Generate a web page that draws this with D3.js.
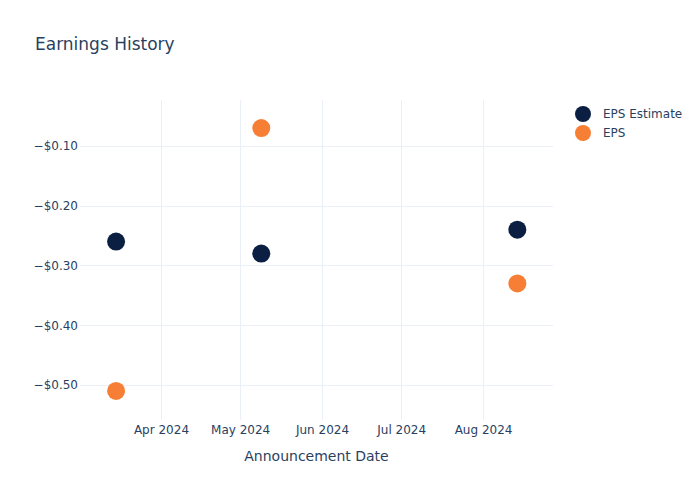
<!DOCTYPE html>
<html>
<head>
<meta charset="utf-8">
<script src="https://cdn.jsdelivr.net/npm/d3@7"></script>
<style>
  body { margin: 0; background: #fff; }
  text { font-family: "DejaVu Sans", sans-serif; fill: #2a3f5f; }
</style>
</head>
<body>
<script>
var dates = ["2024-03-15", "2024-05-09", "2024-08-14"]; // announcement dates
var epsEstimate = [-0.26, -0.28, -0.24]; // EPS Estimate
var epsActual = [-0.51, -0.07, -0.33];   // EPS
var seriesNames = ["EPS Estimate", "EPS"];
var seriesColors = ["#0b1f42", "#f77f35"];
var yTicks = [-0.5, -0.4, -0.3, -0.2, -0.1];

var parseDate = d3.timeParse("%Y-%m-%d");
var width = 700, height = 500;
var margin = {top: 100, right: 147, bottom: 80, left: 80};
var plotW = width - margin.left - margin.right;
var plotH = height - margin.top - margin.bottom;
var font = "'DejaVu Sans', sans-serif";

var svg = d3.select("body").append("svg").attr("width", width).attr("height", height);

var x = d3.scaleTime()
    .domain([new Date(2024, 2, 1, 8), new Date(2024, 7, 27, 12)])
    .range([0, plotW]);

var y = d3.scaleLinear()
    .domain([-0.5586, -0.023])
    .range([plotH, 0]);

var g = svg.append("g").attr("transform", "translate(" + margin.left + "," + margin.top + ")");

// grid lines (snapped to pixels so they stay crisp)
var xTicks = [new Date(2024, 3, 1), new Date(2024, 4, 1), new Date(2024, 5, 1), new Date(2024, 6, 1), new Date(2024, 7, 1)];
g.selectAll(".xgrid").data(xTicks).enter().append("line")
    .attr("x1", function(d) { return Math.round(x(d)) + 0.5; }).attr("x2", function(d) { return Math.round(x(d)) + 0.5; })
    .attr("y1", 0).attr("y2", plotH)
    .attr("stroke", "#ebf0f8").attr("stroke-width", 1).attr("shape-rendering", "crispEdges");
g.selectAll(".ygrid").data(yTicks).enter().append("line")
    .attr("x1", 0).attr("x2", plotW)
    .attr("y1", function(d) { return Math.round(y(d)) + 0.5; }).attr("y2", function(d) { return Math.round(y(d)) + 0.5; })
    .attr("stroke", "#ebf0f8").attr("stroke-width", 1).attr("shape-rendering", "crispEdges");

// axes (labels only)
var xAxis = d3.axisBottom(x).tickValues(xTicks).tickFormat(d3.timeFormat("%b %Y")).tickSize(0).tickPadding(5);
var xg = g.append("g").attr("transform", "translate(0," + plotH + ")").call(xAxis);
xg.select(".domain").remove();
xg.selectAll("text").attr("font-size", 12).style("fill", "#2a3f5f").attr("font-family", font);

var yAxis = d3.axisLeft(y).tickValues(yTicks)
    .tickFormat(function(d) { return "\u2212$" + Math.abs(d).toFixed(2); })
    .tickSize(0).tickPadding(2);
var yg = g.append("g").call(yAxis);
yg.select(".domain").remove();
yg.selectAll("text").attr("font-size", 12).style("fill", "#2a3f5f").attr("font-family", font);

// points
var rows = dates.map(function(d, i) {
  return {date: parseDate(d), est: epsEstimate[i], eps: epsActual[i]};
});
g.selectAll(".est").data(rows).enter().append("circle")
    .attr("cx", function(d) { return x(d.date); })
    .attr("cy", function(d) { return y(d.est); })
    .attr("r", 9).attr("fill", seriesColors[0]);
g.selectAll(".eps").data(rows).enter().append("circle")
    .attr("cx", function(d) { return x(d.date); })
    .attr("cy", function(d) { return y(d.eps); })
    .attr("r", 9).attr("fill", seriesColors[1]);

// title
svg.append("text").attr("x", 35).attr("y", 50).attr("font-size", 17).text("Earnings History");

// x-axis title
svg.append("text").attr("x", margin.left + plotW / 2).attr("y", 461)
    .attr("text-anchor", "middle").attr("font-size", 14).text("Announcement Date");

// legend
var legend = svg.selectAll(".legend").data(seriesNames).enter().append("g")
    .attr("transform", function(d, i) { return "translate(583," + (114 + i * 19) + ")"; });
legend.append("circle").attr("r", 8).attr("fill", function(d, i) { return seriesColors[i]; });
legend.append("text").attr("x", 20).attr("dy", "0.35em").attr("font-size", 12).text(function(d) { return d; });
</script>
</body>
</html>
